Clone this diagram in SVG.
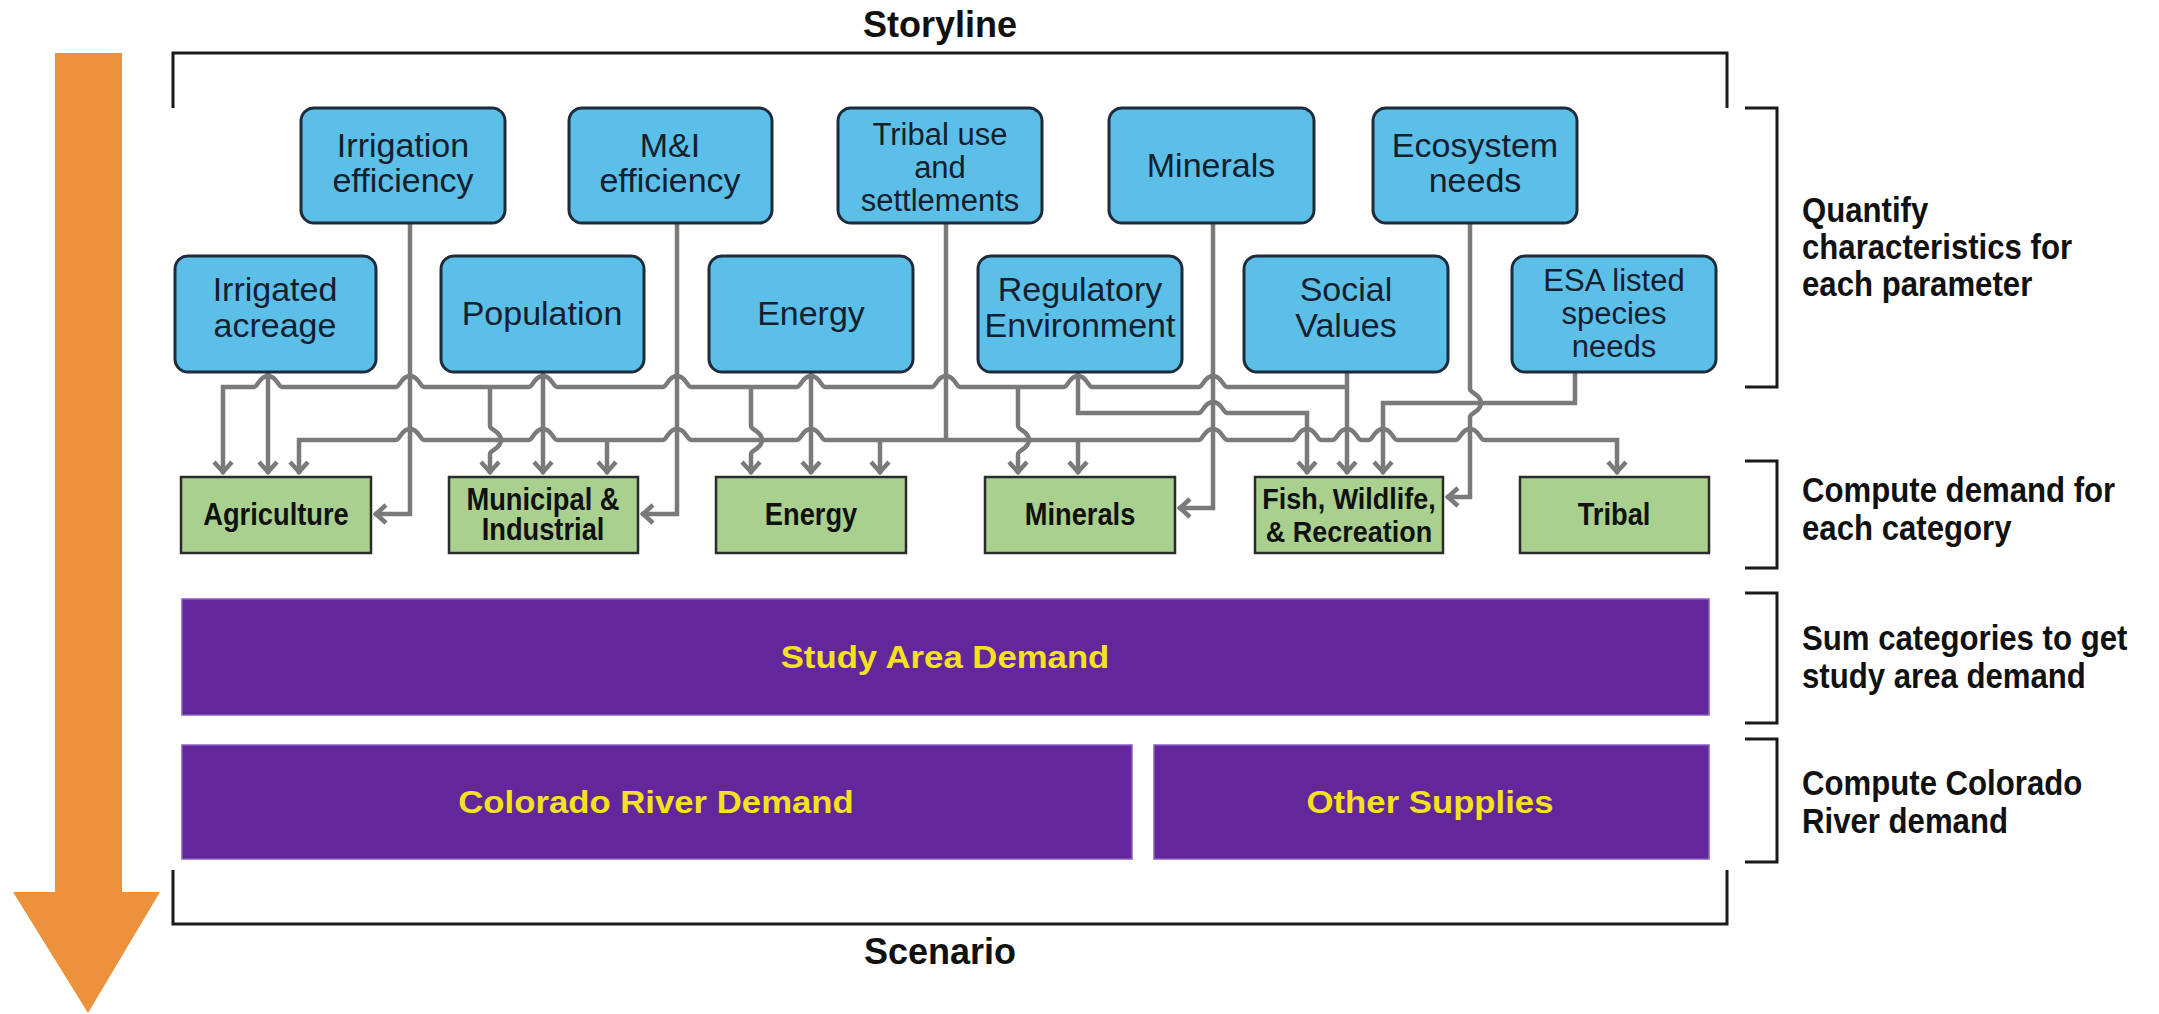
<svg xmlns="http://www.w3.org/2000/svg" width="2159" height="1014" viewBox="0 0 2159 1014">
<style>
.param rect { fill:#5bbfe8; stroke:#1d2b3a; stroke-width:3; }
.param text { font-family:"Liberation Sans", Arial, sans-serif; font-size:34px; fill:#14202e; text-anchor:middle; }
.param text.t3 { font-size:31px; }
.cat rect { fill:#a9d08e; stroke:#2b2b2b; stroke-width:2.5; }
.cat text { font-family:"Liberation Sans", Arial, sans-serif; font-weight:bold; font-size:31px; fill:#111; text-anchor:middle; }
.cat text.sm { font-size:29px; }
.bar rect { fill:#64279b; stroke:#8a5cc4; stroke-width:1.5; }
.bar text { font-family:"Liberation Sans", Arial, sans-serif; font-weight:bold; font-size:31px; fill:#f4e31c; text-anchor:middle; }
.title { font-family:"Liberation Sans", Arial, sans-serif; font-weight:bold; font-size:36px; fill:#111; text-anchor:middle; }
.side text { font-family:"Liberation Sans", Arial, sans-serif; font-weight:bold; font-size:35px; fill:#111; }
.bracket { fill:none; stroke:#1a1a1a; stroke-width:3; }
.conn path { fill:none; stroke:#7a7a7a; stroke-width:4.5; }
.conn .a { marker-end:url(#arr); }
</style>
<defs>
<marker id="arr" viewBox="-14 -12 18 24" refX="2" refY="0" markerWidth="18" markerHeight="24" markerUnits="userSpaceOnUse" orient="auto">
<path d="M-10,-9 L0,0 L-10,9" fill="none" stroke="#7a7a7a" stroke-width="4.5"/>
</marker>
</defs>
<rect width="2159" height="1014" fill="#ffffff"/>

<g id="flow-arrow">
<polygon points="55,53 122,53 122,892 160,892 88,1013 13,892 55,892" fill="#ec913c"/>
</g>

<g id="frame">
<path class="bracket" d="M173,108 L173,53 L1727,53 L1727,108"/>
<path class="bracket" d="M173,870 L173,924 L1727,924 L1727,870"/>
<text class="title" x="940" y="37">Storyline</text>
<text class="title" x="940" y="964">Scenario</text>
</g>

<g id="connectors" class="conn">
<path class="a" d="M1347,387 L1227,387 C1223,387 1222,376 1213,376 C1204,376 1203,387 1199,387 L1092,387 C1088,387 1087,376 1078,376 C1069,376 1068,387 1064,387 L960,387 C956,387 955,376 946,376 C937,376 936,387 932,387 L825,387 C821,387 820,376 811,376 C802,376 801,387 797,387 L691,387 C687,387 686,376 677,376 C668,376 667,387 663,387 L557,387 C553,387 552,376 543,376 C534,376 533,387 529,387 L424,387 C420,387 419,376 410,376 C401,376 400,387 396,387 L282,387 C278,387 277,376 268,376 C259,376 258,387 254,387 L223,387 L223,474"/>
<path class="a" d="M946,440 L825,440 C821,440 820,429 811,429 C802,429 801,440 797,440 L691,440 C687,440 686,429 677,429 C668,429 667,440 663,440 L557,440 C553,440 552,429 543,429 C534,429 533,440 529,440 L424,440 C420,440 419,429 410,429 C401,429 400,440 396,440 L299,440 L299,474"/>
<path class="a" d="M946,440 L1199,440 C1203,440 1204,429 1213,429 C1222,429 1223,440 1227,440 L1293,440 C1297,440 1298,429 1307,429 C1316,429 1317,440 1321,440 L1333,440 C1337,440 1338,429 1347,429 C1356,429 1357,440 1361,440 L1369,440 C1373,440 1374,429 1383,429 C1392,429 1393,440 1397,440 L1456,440 C1460,440 1461,429 1470,429 C1479,429 1480,440 1484,440 L1617,440 L1617,474"/>
<path d="M946,223 L946,440"/>
<path class="a" d="M490,387 L490,426 C490,430 501,431 501,440 C501,449 490,450 490,454 L490,474"/>
<path class="a" d="M751,387 L751,426 C751,430 762,431 762,440 C762,449 751,450 751,454 L751,474"/>
<path class="a" d="M1018,387 L1018,426 C1018,430 1029,431 1029,440 C1029,449 1018,450 1018,454 L1018,474"/>
<path class="a" d="M607,440 L607,474"/>
<path class="a" d="M880,440 L880,474"/>
<path class="a" d="M1078,440 L1078,474"/>
<path class="a" d="M268,372 L268,474"/>
<path class="a" d="M543,372 L543,474"/>
<path class="a" d="M811,372 L811,474"/>
<path class="a" d="M1347,372 L1347,474"/>
<path class="a" d="M410,223 L410,514 L374,514"/>
<path class="a" d="M677,223 L677,514 L641,514"/>
<path class="a" d="M1213,223 L1213,508 L1178,508"/>
<path class="a" d="M1470,223 L1470,389 C1470,393 1481,394 1481,403 C1481,412 1470,413 1470,417 L1470,497 L1446,497"/>
<path class="a" d="M1078,372 L1078,413 L1199,413 C1203,413 1204,402 1213,402 C1222,402 1223,413 1227,413 L1307,413 L1307,474"/>
<path class="a" d="M1575,372 L1575,403 L1383,403 L1383,474"/>
</g>

<g id="p-irrigation-efficiency" class="param"><rect x="301" y="108" width="204" height="115" rx="13"/><text x="403" y="157">Irrigation</text><text x="403" y="192">efficiency</text></g>
<g id="p-mi-efficiency" class="param"><rect x="569" y="108" width="203" height="115" rx="13"/><text x="670" y="157">M&amp;I</text><text x="670" y="192">efficiency</text></g>
<g id="p-tribal-use" class="param"><rect x="838" y="108" width="204" height="115" rx="13"/><text class="t3" x="940" y="145">Tribal use</text><text class="t3" x="940" y="178">and</text><text class="t3" x="940" y="211">settlements</text></g>
<g id="p-minerals" class="param"><rect x="1109" y="108" width="205" height="115" rx="13"/><text x="1211" y="177">Minerals</text></g>
<g id="p-ecosystem" class="param"><rect x="1373" y="108" width="204" height="115" rx="13"/><text x="1475" y="157">Ecosystem</text><text x="1475" y="192">needs</text></g>

<g id="p-irrigated-acreage" class="param"><rect x="175" y="256" width="201" height="116" rx="13"/><text x="275" y="301">Irrigated</text><text x="275" y="337">acreage</text></g>
<g id="p-population" class="param"><rect x="441" y="256" width="203" height="116" rx="13"/><text x="542" y="325">Population</text></g>
<g id="p-energy" class="param"><rect x="709" y="256" width="204" height="116" rx="13"/><text x="811" y="325">Energy</text></g>
<g id="p-regulatory" class="param"><rect x="978" y="256" width="204" height="116" rx="13"/><text x="1080" y="301">Regulatory</text><text x="1080" y="337">Environment</text></g>
<g id="p-social" class="param"><rect x="1244" y="256" width="204" height="116" rx="13"/><text x="1346" y="301">Social</text><text x="1346" y="337">Values</text></g>
<g id="p-esa" class="param"><rect x="1512" y="256" width="204" height="116" rx="13"/><text class="t3" x="1614" y="291">ESA listed</text><text class="t3" x="1614" y="324">species</text><text class="t3" x="1614" y="357">needs</text></g>

<g id="c-agriculture" class="cat"><rect x="181" y="477" width="190" height="76"/><text transform="translate(276,525) scale(0.88,1)">Agriculture</text></g>
<g id="c-municipal" class="cat"><rect x="449" y="477" width="189" height="76"/><text transform="translate(543,510) scale(0.88,1)">Municipal &amp;</text><text transform="translate(543,540) scale(0.88,1)">Industrial</text></g>
<g id="c-energy" class="cat"><rect x="716" y="477" width="190" height="76"/><text transform="translate(811,525) scale(0.88,1)">Energy</text></g>
<g id="c-minerals" class="cat"><rect x="985" y="477" width="190" height="76"/><text transform="translate(1080,525) scale(0.88,1)">Minerals</text></g>
<g id="c-fish" class="cat"><rect x="1255" y="477" width="188" height="76"/><text class="sm" transform="translate(1349,509) scale(0.93,1)">Fish, Wildlife,</text><text class="sm" transform="translate(1349,542) scale(0.93,1)">&amp; Recreation</text></g>
<g id="c-tribal" class="cat"><rect x="1520" y="477" width="189" height="76"/><text transform="translate(1614,525) scale(0.88,1)">Tribal</text></g>

<g id="b-study-area" class="bar"><rect x="182" y="599" width="1527" height="116"/><text transform="translate(945,668) scale(1.12,1)">Study Area Demand</text></g>
<g id="b-colorado" class="bar"><rect x="182" y="745" width="950" height="114"/><text transform="translate(656,813) scale(1.12,1)">Colorado River Demand</text></g>
<g id="b-other" class="bar"><rect x="1154" y="745" width="555" height="114"/><text transform="translate(1430,813) scale(1.12,1)">Other Supplies</text></g>

<g id="side-labels" class="side">
<path class="bracket" d="M1745,108 L1777,108 L1777,387 L1745,387"/>
<path class="bracket" d="M1745,461 L1777,461 L1777,568 L1745,568"/>
<path class="bracket" d="M1745,593 L1777,593 L1777,723 L1745,723"/>
<path class="bracket" d="M1745,739 L1777,739 L1777,862 L1745,862"/>
<text transform="translate(1802,222) scale(0.89,1)">Quantify</text>
<text transform="translate(1802,259) scale(0.89,1)">characteristics for</text>
<text transform="translate(1802,296) scale(0.89,1)">each parameter</text>
<text transform="translate(1802,502) scale(0.89,1)">Compute demand for</text>
<text transform="translate(1802,540) scale(0.89,1)">each category</text>
<text transform="translate(1802,650) scale(0.89,1)">Sum categories to get</text>
<text transform="translate(1802,688) scale(0.89,1)">study area demand</text>
<text transform="translate(1802,795) scale(0.89,1)">Compute Colorado</text>
<text transform="translate(1802,833) scale(0.89,1)">River demand</text>
</g>
</svg>
